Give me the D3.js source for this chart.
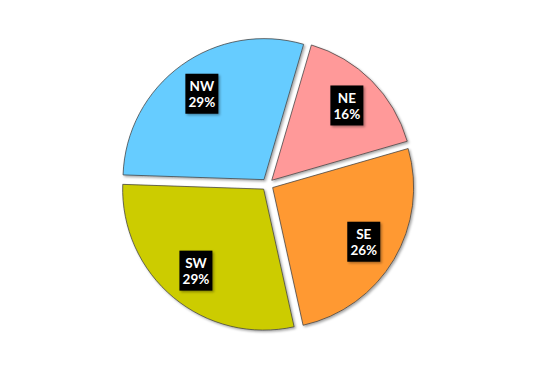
<!DOCTYPE html>
<html>
<head>
<meta charset="utf-8">
<script src="https://cdn.jsdelivr.net/npm/d3@7"></script>
<style>
	html, body { margin: 0; padding: 0; background: #fff; }
	svg { display: block; }
</style>
</head>
<body>
<svg id="chart" width="534" height="370"></svg>
<script>
const regions = ['NE', 'SE', 'SW', 'NW'];
const shares = [16, 26, 29, 29];
const colors = ['#FF9999', '#FF9933', '#CCCC00', '#66CCFF'];

const width = 534, height = 370;
const cx = 267.5, cy = 184.5;
const radius = 141, explode = 6, labelRadius = 106;

let svg = d3.select('#chart');

// soft shadow, down-right
let defs = svg.append('defs');
let shadow = defs.append('filter').attr('id', 'shadow')
	.attr('x', '-20%').attr('y', '-20%').attr('width', '140%').attr('height', '140%');
shadow.append('feDropShadow')
	.attr('dx', 1.5).attr('dy', 1.5).attr('stdDeviation', 1.2)
	.attr('flood-color', '#000').attr('flood-opacity', 0.35);

let pie = d3.pie().sort(null).startAngle(0.285).endAngle(0.285 + 2 * Math.PI);
let arcs = pie(shares).map((a, i) => Object.assign(a, { region: regions[i], color: colors[i] }));

let arc = d3.arc().innerRadius(0).outerRadius(radius);
let labelArc = d3.arc().innerRadius(labelRadius).outerRadius(labelRadius);

let g = svg.append('g').attr('transform', `translate(${cx},${cy})`);

let slices = g.selectAll('.slice')
	.data(arcs)
	.enter().append('g')
	.attr('class', 'slice')
	.attr('transform', d => {
		let mid = (d.startAngle + d.endAngle) / 2;
		return `translate(${explode * Math.sin(mid)},${-explode * Math.cos(mid)})`;
	});

slices.append('path')
	.attr('d', arc)
	.attr('fill', d => d.color)
	.attr('stroke', '#404040')
	.attr('stroke-width', 0.75)
	.attr('filter', 'url(#shadow)');

// labels: black boxes with white text
let labels = slices.append('g')
	.attr('transform', d => `translate(${labelArc.centroid(d)})`);

labels.append('rect')
	.attr('x', -16.5).attr('y', -20)
	.attr('width', 33).attr('height', 40)
	.attr('fill', '#000')
	.attr('filter', 'url(#shadow)');

labels.selectAll('text')
	.data(d => [d.region, d.value + '%'])
	.enter().append('text')
	.attr('text-anchor', 'middle')
	.attr('x', 0)
	.attr('y', (t, i) => i === 0 ? -2.5 : 13.5)
	.attr('fill', '#fff')
	.style('font-family', 'Lato, "Open Sans", sans-serif')
	.style('font-weight', 'bold')
	.style('font-size', '13.5px')
	.text(t => t);
</script>
</body>
</html>
